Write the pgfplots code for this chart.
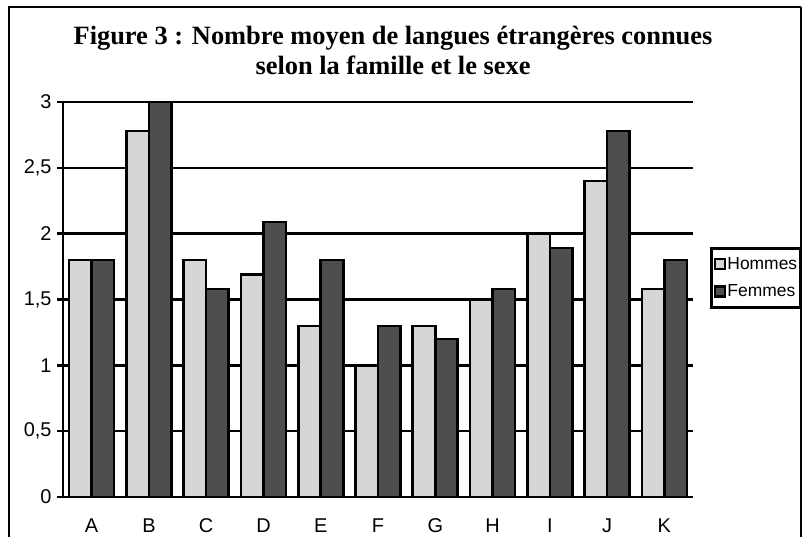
\documentclass[border=0pt]{standalone}
\usepackage{fontspec}
\setmainfont{Liberation Sans}
\newfontfamily\titlefont{Liberation Serif}
\usepackage{pgfplots}
\pgfplotsset{compat=1.18}
\definecolor{hommes}{HTML}{D6D6D6}
\definecolor{femmes}{HTML}{4E4E4E}
\begin{document}
\begin{tikzpicture}[x=1bp,y=1bp]
\useasboundingbox (0,0) rectangle (803,537);
\fill[white] (0,0) rectangle (803,537);
\begin{scope}
\clip (0,0) rectangle (803,537);
\begin{axis}[
  at={(63bp,40bp)}, anchor=south west,
  scale only axis, width=630bp, height=395bp,
  xmin=-0.5, xmax=10.5, ymin=0, ymax=3,
  axis x line=bottom, axis y line=left,
  axis line style={-, line width=2.6bp, black},
  ybar=0pt, bar width=22.5bp,
  xtick={0,...,10},
  xticklabels={A,B,C,D,E,F,G,H,I,J,K},
  xtick style={draw=none},
  minor xtick={-0.5,0.5,...,10.5},
  minor x tick style={line width=2.6bp, black},
  minor tick length=12bp,
  ytick={0,0.5,...,3},
  yticklabels={0,{0,5},1,{1,5},2,{2,5},3},
  ytick style={line width=2.6bp, black},
  major tick length=12bp,
  tick align=center,
  ymajorgrids,
  major grid style={line width=2.6bp, black},
  tick label style={font=\fontsize{20}{22}\selectfont},
  xticklabel style={yshift=-12bp},
  yticklabel style={xshift=-2bp},
  legend style={at={(1.027,0.633)}, anchor=north west,
    draw=black, line width=2.6bp,
    font=\fontsize{17.5}{20}\selectfont,
    inner xsep=2.5bp, inner ysep=8bp, row sep=12bp,
    nodes={inner sep=1bp}},
  legend cell align=left,
  legend image code/.code={\draw[#1, line width=2.6bp] (0bp,-5bp) rectangle (10bp,5bp);},
]
\addplot[fill=hommes, draw=black, line width=2.6bp] coordinates {
 (0,1.8) (1,2.78) (2,1.8) (3,1.69) (4,1.3) (5,1.0) (6,1.3) (7,1.5) (8,2.0) (9,2.4) (10,1.58)};
\addplot[fill=femmes, draw=black, line width=2.6bp] coordinates {
 (0,1.8) (1,3.0) (2,1.58) (3,2.09) (4,1.8) (5,1.3) (6,1.2) (7,1.58) (8,1.89) (9,2.78) (10,1.8)};
\legend{Hommes,Femmes}
\end{axis}
\end{scope}
\node[anchor=base, font=\titlefont\bfseries\fontsize{26.5}{30}\selectfont, inner sep=0] at (393,492) {Figure 3 : Nombre moyen de langues étrangères connues};
\node[anchor=base, font=\titlefont\bfseries\fontsize{26.5}{30}\selectfont, inner sep=0] at (393,462) {selon la famille et le sexe};
\draw[line width=2.6bp, black] (9,-5) -- (9,530) -- (801,530);
\draw[line width=1.8bp, black] (801,530) -- (801,-5);
\end{tikzpicture}
\end{document}
